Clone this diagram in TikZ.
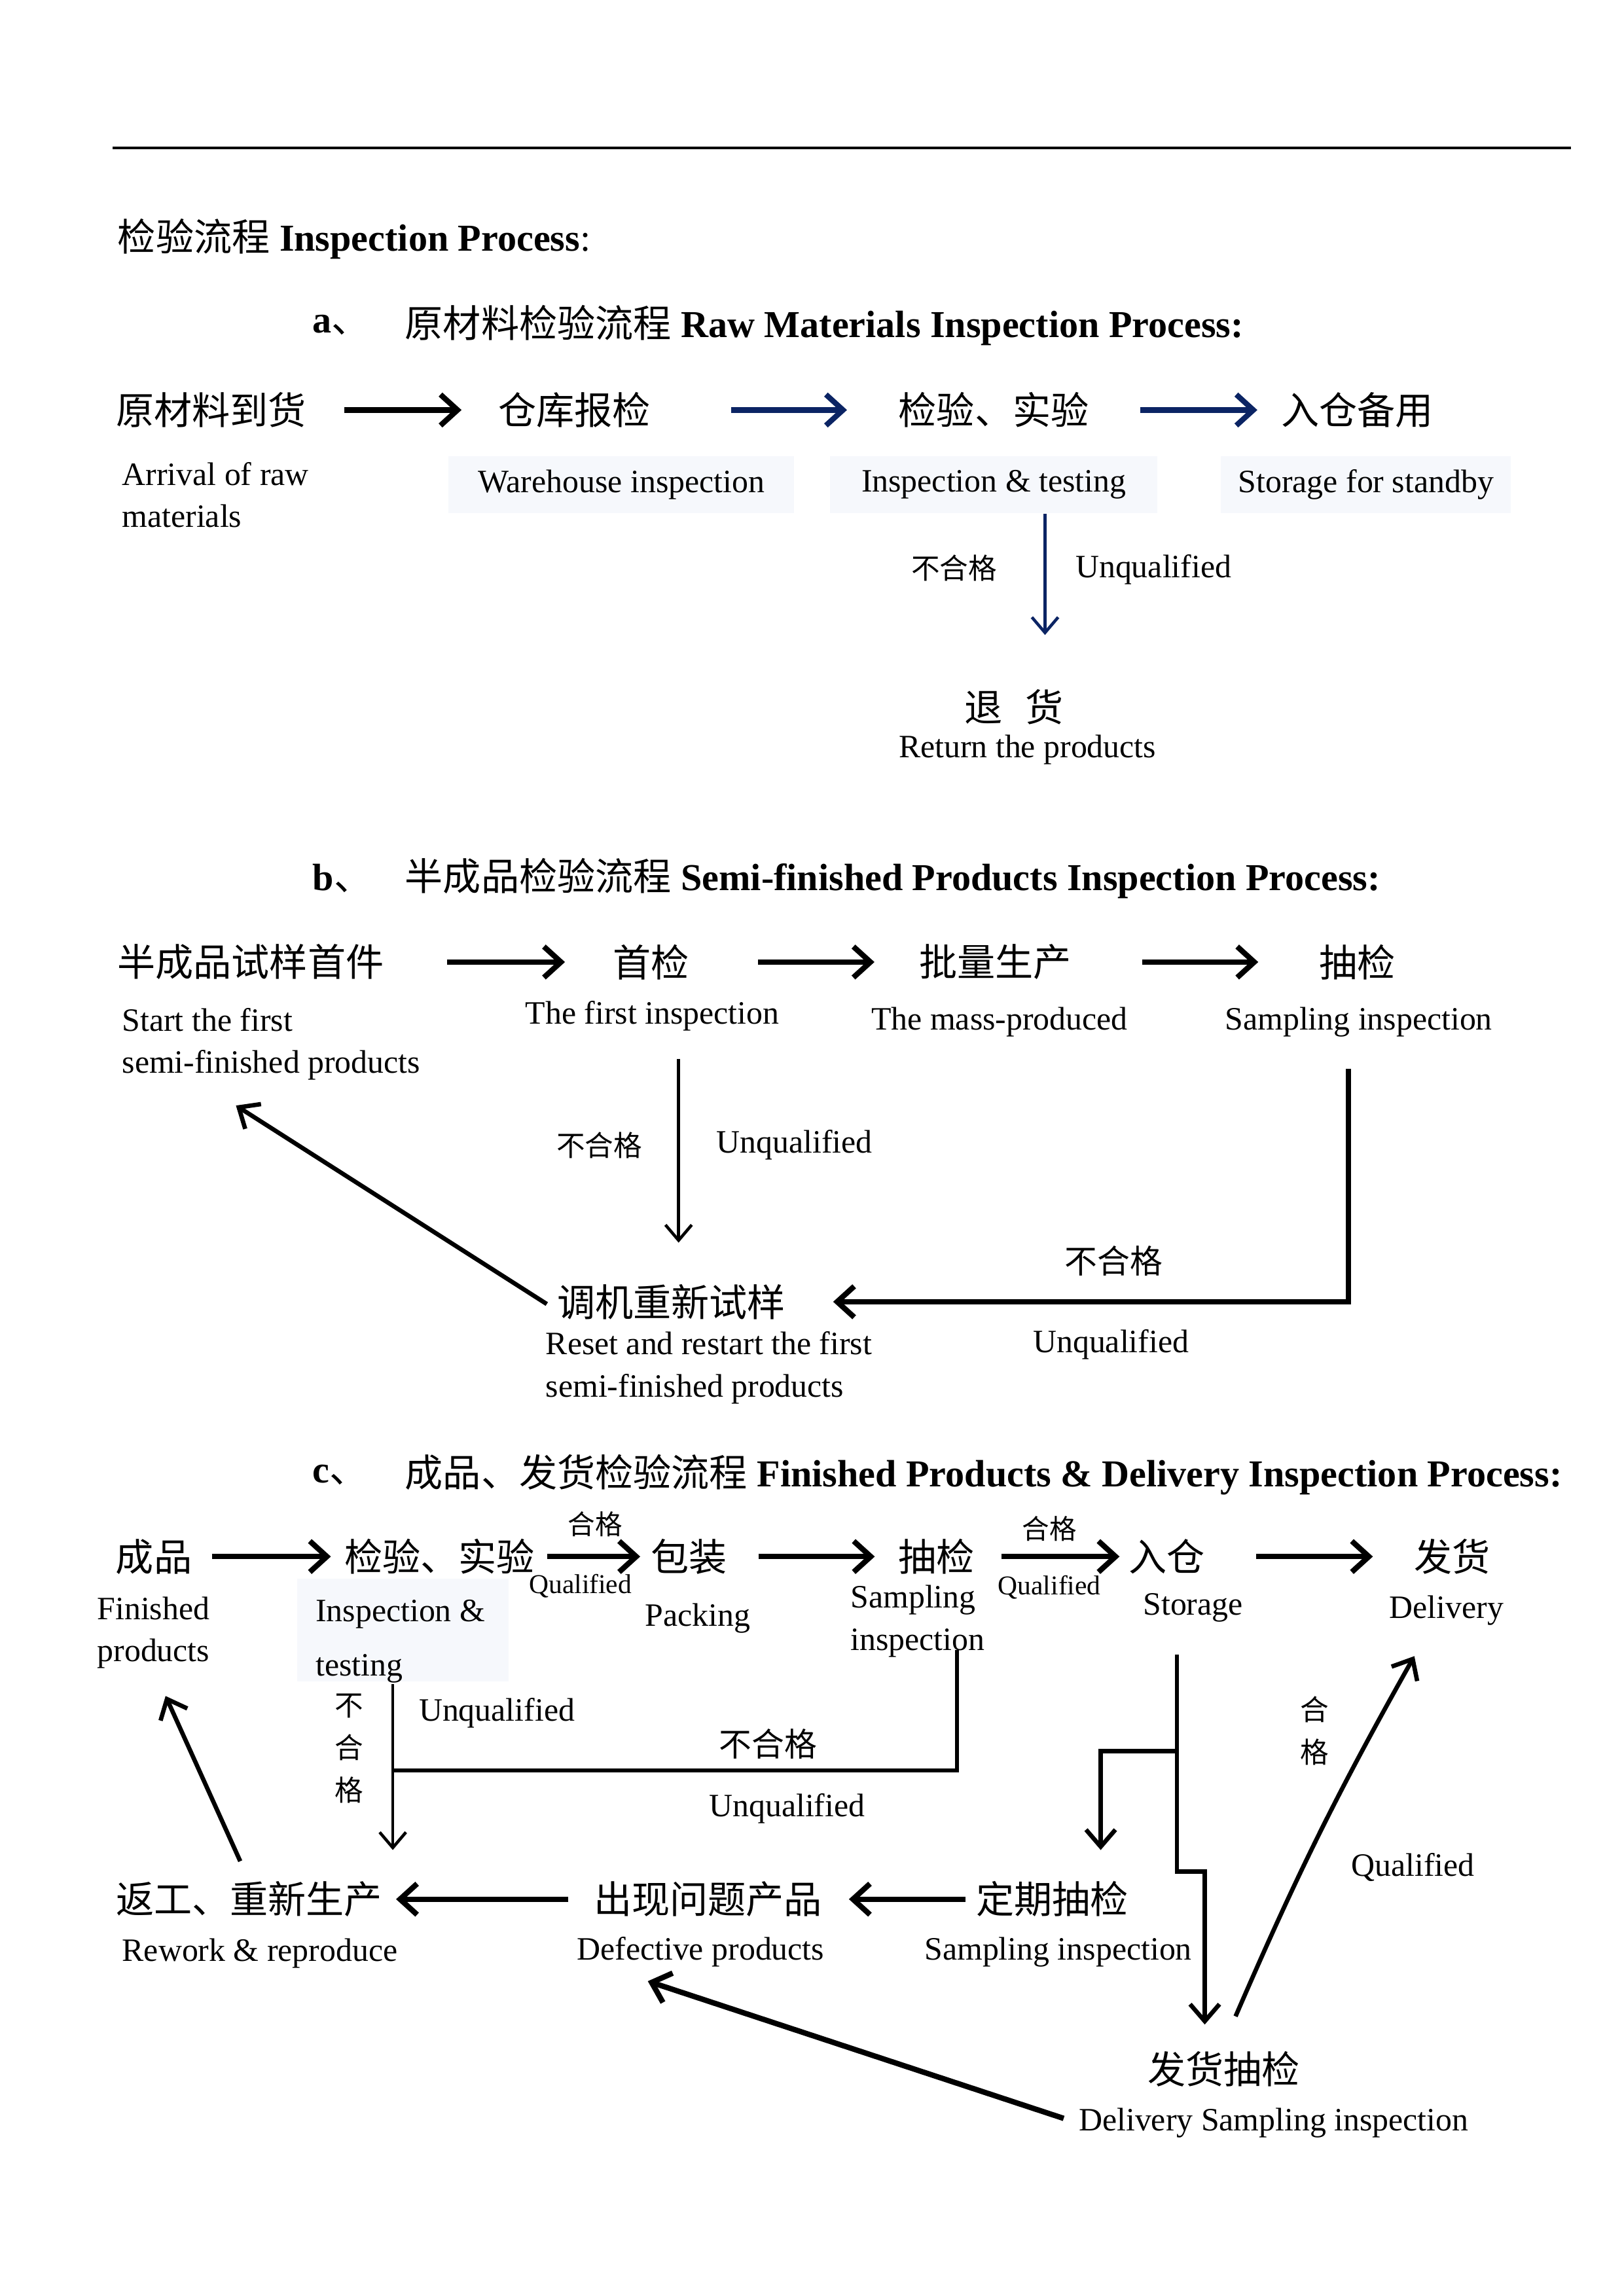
\documentclass[tikz,border=0pt]{standalone}
\usepackage{fontspec}
\setmainfont{Liberation Serif}
\newfontfamily\cjk{Noto Sans CJK SC}
\usepackage{xcolor}
\usetikzlibrary{arrows.meta,positioning}
\definecolor{navy}{HTML}{0B2464}
\definecolor{boxbg}{HTML}{F6F8FC}

\begin{document}
\begin{tikzpicture}[x=0.018953cm, y=-0.018941cm,
  cn/.style={font=\cjk\fontsize{14}{17}\selectfont, inner sep=0pt},
  en/.style={font=\fontsize{12}{15.6}\selectfont, inner sep=0pt, align=left},
  lab/.style={font=\fontsize{12}{14}\selectfont, inner sep=0pt},
  cnlab/.style={font=\cjk\fontsize{10.5}{15.6}\selectfont, inner sep=0pt, align=center},
  cnmid/.style={font=\cjk\fontsize{12}{14}\selectfont, inner sep=0pt},
  small/.style={font=\fontsize{10}{12}\selectfont, inner sep=0pt},
  cnsmall/.style={font=\cjk\fontsize{10}{12}\selectfont, inner sep=0pt},
  head/.style={font=\fontsize{14}{17}\selectfont\bfseries, inner sep=0pt, anchor=west},
  shade/.style={fill=boxbg, inner sep=0pt, minimum height=7.4mm},
  flow/.style={line width=2pt, -{Straight Barb[length=2.2mm,width=4mm]}},
  mid/.style={line width=1.6pt, -{Straight Barb[length=2.2mm,width=3.8mm]}},
  thin/.style={line width=1.1pt, -{Straight Barb[length=2mm,width=3.4mm]}}]
\useasboundingbox (0,0) rectangle (1108,1568);
\draw[line width=1pt] (77,101) -- (1072,101);

\node[head] (title) at (80,163) {{\cjk\mdseries 检验流程} Inspection Process\mdseries:};

% a
\node[head] (ha) at (213,222) {a{\cjk\mdseries 、}};
\node[head] (hatext) at (276,222) {{\cjk\mdseries 原材料检验流程} Raw Materials Inspection Process:};
\node[cn] (a1) at (144,280) {原材料到货};
\node[cn] (a2) at (392,280) {仓库报检};
\node[cn] (a3) at (678,280) {检验、实验};
\node[cn] (a4) at (926,280) {入仓备用};
\node[en, anchor=west] (a1en) at (83,338) {Arrival of raw\\materials};
\node[lab, shade, minimum width=44.7mm] (a2en) at (424,331) {Warehouse inspection};
\node[lab, shade, minimum width=42.3mm] (a3en) at (678,331) {Inspection \& testing};
\node[lab, shade, minimum width=37.5mm] (a4en) at (932,331) {Storage for standby};
\draw[flow, shorten <=4.9mm, shorten >=4.7mm] (a1) -- (a2);
\draw[flow, navy, shorten <=10.3mm, shorten >=6.6mm] (a2) -- (a3);
\draw[flow, navy, shorten <=6.6mm, shorten >=3mm] (a3) -- (a4);
\node[cn] (ret) at (692,483) {退\hspace{0.6em}货};
\node[lab] (reten) at (701,512) {Return the products};
\coordinate (a3d) at (713,351);
\draw[thin, navy, shorten >=7mm] (a3d) -- (a3d |- ret.north);
\node[cnlab] (a3nq) at (651,388) {不合格};
\node[lab] (a3uq) at (787,389) {Unqualified};

% b
\node[head] (hb) at (213,600) {b{\cjk\mdseries 、}};
\node[head] (hbtext) at (276,600) {{\cjk\mdseries 半成品检验流程} Semi-finished Products Inspection Process:};
\node[cn] (b1) at (171,657) {半成品试样首件};
\node[cn] (b2) at (444,657) {首检};
\node[cn] (b3) at (679,657) {批量生产};
\node[cn] (b4) at (926,657) {抽检};
\node[en, anchor=west] (b1en) at (83,713) {Start the first\\semi-finished products};
\node[lab] (b2en) at (445,694) {The first inspection};
\node[lab] (b3en) at (682,698) {The mass-produced};
\node[lab] (b4en) at (927,698) {Sampling inspection};
\draw[flow, shorten <=8.1mm, shorten >=6.1mm] (b1) -- (b2);
\draw[flow, shorten <=8.9mm, shorten >=5.7mm] (b2) -- (b3);
\draw[flow, shorten <=9.1mm, shorten >=7.8mm] (b3) -- (b4);
\node[cn] (reset) at (458,889) {调机重新试样};
\node[en, anchor=west] (reseten) at (372,934) {Reset and restart the first\\semi-finished products};
\coordinate (b2d) at (463,723);
\draw[thin, shorten >=5.3mm] (b2d) -- (b2d |- reset.north);
\node[cnlab] (b2nq) at (409,782) {不合格};
\node[lab] (b2uq) at (542,782) {Unqualified};
\coordinate (b4d) at (920,730);
\draw[flow, shorten >=6.1mm] (b4d) |- (reset);
\node[cnmid] (b4nq) at (760,861) {不合格};
\node[lab] (b4uq) at (758,918) {Unqualified};
\coordinate (b1in) at (161,755);
\draw[mid, shorten <=1.5mm] ([yshift=-1.1mm]reset.west) -- (b1in);

% c
\node[head] (hc) at (213,1007) {c{\cjk\mdseries 、}};
\node[head] (hctext) at (276,1007) {{\cjk\mdseries 成品、发货检验流程} Finished Products \& Delivery Inspection Process:};
\node[cn] (c1) at (105,1063) {成品};
\node[cn] (c2) at (300,1063) {检验、实验};
\node[cn] (c3) at (470,1063) {包装};
\node[cn] (c4) at (639,1063) {抽检};
\node[cn] (c5) at (796,1063) {入仓};
\node[cn] (c6) at (991,1063) {发货};
\node[en, anchor=west] (c1en) at (66,1115) {Finished\\products};
\node[shade, minimum width=27.3mm, minimum height=13.3mm] (c2box) at (275,1113) {};
\node[en, anchor=west, font=\fontsize{12}{20}\selectfont] (c2en) at (215,1121) {Inspection \&\\testing};
\node[lab] (c3en) at (476,1105) {Packing};
\node[en, anchor=west] (c4en) at (580,1107) {Sampling\\inspection};
\node[lab] (c5en) at (814,1098) {Storage};
\node[lab] (c6en) at (987,1100) {Delivery};
\draw[flow, shorten <=2.5mm, shorten >=1.7mm] (c1) -- (c2);
\draw[flow, shorten <=1.5mm, shorten >=1.3mm] (c2) -- (c3);
\node[cnsmall] (c2q) at (406,1041) {合格};
\node[small] (c2qen) at (396,1083) {Qualified};
\draw[flow, shorten <=4mm, shorten >=3mm] (c3) -- (c4);
\draw[flow, shorten <=3.4mm, shorten >=1.1mm] (c4) -- (c5);
\node[cnsmall] (c4q) at (716,1044) {合格};
\node[small] (c4qen) at (716,1084) {Qualified};
\draw[flow, shorten <=6.6mm, shorten >=5.3mm] (c5) -- (c6);

\node[cn] (rework) at (170,1297) {返工、重新生产};
\node[cn] (defect) at (483,1297) {出现问题产品};
\node[cn] (dsamp) at (718,1297) {定期抽检};
\node[cn] (dsi) at (835,1413) {发货抽检};
\node[lab, anchor=west] (reworken) at (83,1334) {Rework \& reproduce};
\node[lab] (defecten) at (478,1333) {Defective products};
\node[lab] (dsampen) at (722,1333) {Sampling inspection};
\node[lab] (dsien) at (869,1450) {Delivery Sampling inspection};

\coordinate (c2d) at (268,1150);
\draw[thin, shorten >=4mm] (c2d) -- (c2d |- rework.north);
\node[cnlab] (c2nq) at (238,1194) {不\\合\\格};
\node[lab] (c2uq) at (339,1170) {Unqualified};
\coordinate (c4d) at (653,1127);
\coordinate (c2j) at (268,1209);
\draw[line width=1.6pt] (c4d) |- (c2j);
\node[cnmid] (c4nq) at (524,1191) {不合格};
\node[lab] (c4uq) at (537,1235) {Unqualified};

\coordinate (c5d) at (803,1130);
\coordinate (c5j) at (803,1196);
\coordinate (c5b) at (751,1196);
\coordinate (c5s) at (822,1278);
\draw[mid, shorten >=3.4mm] (c5d) |- (c5s) -- (c5s |- dsi.north);
\draw[mid, shorten >=4mm] (c5j) -- (c5b) -- (c5b |- dsamp.north);

\draw[flow, shorten <=1.3mm, shorten >=3.4mm] (dsamp) -- (defect);
\draw[flow, shorten <=3.2mm, shorten >=1.7mm] (defect) -- (rework);
\draw[mid, shorten <=2.8mm, shorten >=3.8mm] (rework.north) -- (c1en.south);
\coordinate (defin) at (442,1353);
\draw[flow, shorten <=2mm] (dsien.west) -- (defin);
\coordinate (dq) at (843,1377);
\coordinate (dlvin) at (965,1131);
\draw[mid] (dq) to[bend left=3] (dlvin);
\node[cnlab] (dqlab) at (897,1182) {合\\格};
\node[lab] (dqen) at (964,1275) {Qualified};
\end{tikzpicture}
\end{document}
